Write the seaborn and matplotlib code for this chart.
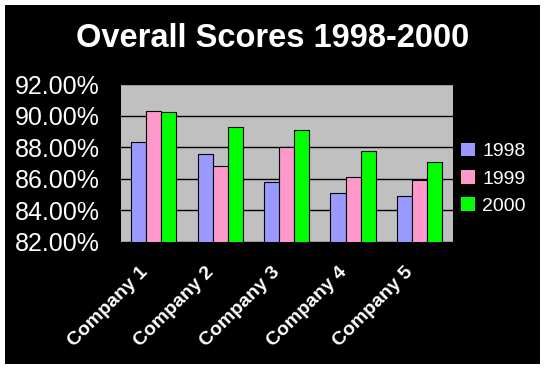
import matplotlib
matplotlib.use("Agg")
import matplotlib.pyplot as plt
import matplotlib.transforms as mtransforms
import pandas as pd
import seaborn as sns
from matplotlib.patches import Rectangle
from matplotlib.ticker import FuncFormatter

# datos
companies = ["Company 1", "Company 2", "Company 3", "Company 4", "Company 5"]
years = ["1998", "1999", "2000"]
scores_1998 = [88.31, 87.55, 85.77, 85.07, 84.90]
scores_1999 = [90.28, 86.83, 88.00, 86.09, 85.92]
scores_2000 = [90.22, 89.26, 89.07, 87.76, 87.04]

colores = {"1998": "#9999FF", "1999": "#FF99CC", "2000": "#00FF00"}

df = pd.DataFrame({
    "Company": companies * 3,
    "Year": [y for y in years for _ in companies],
    "Score": scores_1998 + scores_1999 + scores_2000,
})

sns.set_style("white")
plt.rcParams["font.family"] = ["Liberation Sans", "DejaVu Sans"]

fig = plt.figure(figsize=(5.45, 3.69), dpi=100, facecolor="white")
# fondo negro con margen blanco
fig.patches.append(Rectangle((5 / 545, 5 / 369), 535 / 545, 359 / 369,
                             transform=fig.transFigure, facecolor="black",
                             edgecolor="none", zorder=-10))

ax = fig.add_axes([0.2215, 0.345, 0.609, 0.427])
ax.set_facecolor("#C0C0C0")

sns.barplot(data=df, x="Company", y="Score", hue="Year", palette=colores,
            saturation=1, width=0.68, edgecolor="black", linewidth=0.8,
            ax=ax, zorder=3)

ax.set_ylim(82, 92)
ax.set_yticks([82, 84, 86, 88, 90, 92])
ax.yaxis.set_major_formatter(FuncFormatter(lambda v, p: f"{v:.2f}%"))
ax.grid(axis="y", color="black", linewidth=1, zorder=1)
ax.set_axisbelow(True)
for s in ax.spines.values():
    s.set_visible(False)

ax.set_xlabel("")
ax.set_ylabel("")
ax.tick_params(axis="y", length=0, pad=15, labelsize=18, labelcolor="white")
ax.tick_params(axis="x", length=0, pad=16, labelcolor="white")
desplazar = mtransforms.ScaledTranslation(-15 / 100, 0, fig.dpi_scale_trans)
for lbl in ax.get_xticklabels():
    lbl.set_rotation(45)
    lbl.set_ha("right")
    lbl.set_rotation_mode("anchor")
    lbl.set_fontweight("bold")
    lbl.set_fontsize(14)
    lbl.set_transform(lbl.get_transform() + desplazar)

ax.legend(loc="center left", bbox_to_anchor=(0.846, 0.515),
          bbox_transform=fig.transFigure, frameon=False, borderpad=0,
          borderaxespad=0, fontsize=14, labelcolor="white",
          handlelength=0.7, handleheight=0.7, handletextpad=0.4,
          labelspacing=0.5)
for h in ax.get_legend().legend_handles:
    h.set_edgecolor("none")

fig.text(0.5, 0.895, "Overall Scores 1998-2000", ha="center", va="center",
         color="white", fontsize=23.5, fontweight="bold")

fig.savefig("out.png", dpi=100, facecolor=fig.get_facecolor())
